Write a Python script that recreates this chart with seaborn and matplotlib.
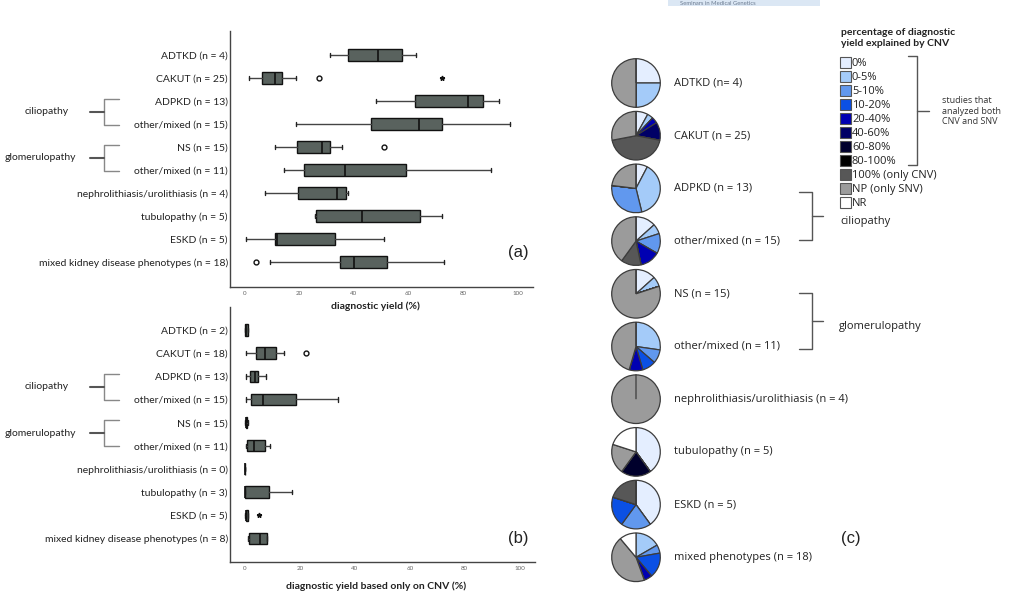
import matplotlib
matplotlib.use("Agg")
import matplotlib.pyplot as plt
from matplotlib.patches import Rectangle
import seaborn as sns

sns.set_theme(style="white")
plt.rcParams['font.family'] = ['Lato', 'DejaVu Sans']

# %% data - panel (a): diagnostic yield (%) per phenotype
labels_a = ["ADTKD (n = 4)", "CAKUT (n = 25)", "ADPKD (n = 13)", "other/mixed (n = 15)",
            "NS (n = 15)", "other/mixed (n = 11)", "nephrolithiasis/urolithiasis (n = 4)",
            "tubulopathy (n = 5)", "ESKD (n = 5)", "mixed kidney disease phenotypes (n = 18)"]
whislo_a = [31.1, 1.3, 47.9, 18.6, 11.1, 14.2, 7.2, 25.8, 0.5, 9.3]
q1_a = [37.9, 6.2, 62.3, 46.1, 19.1, 21.8, 19.3, 26.0, 11.0, 35.0]
med_a = [48.8, 11.1, 81.9, 63.7, 28.2, 36.8, 33.9, 43.0, 11.9, 39.9]
q3_a = [57.7, 13.7, 87.4, 72.4, 31.3, 58.9, 36.9, 64.1, 32.9, 52.1]
whishi_a = [62.6, 18.8, 93.2, 97.3, 35.7, 90.1, 37.7, 72.1, 51.1, 73.0]
outliers_a = [[], [27.1], [], [], [51.1], [], [], [], [], [3.9]]
extremes_a = [[], [72.2], [], [], [], [], [], [], [], []]

# %% data - panel (b): diagnostic yield based only on CNV (%)
labels_b = ["ADTKD (n = 2)", "CAKUT (n = 18)", "ADPKD (n = 13)", "other/mixed (n = 15)",
            "NS (n = 15)", "other/mixed (n = 11)", "nephrolithiasis/urolithiasis (n = 0)",
            "tubulopathy (n = 3)", "ESKD (n = 5)", "mixed kidney disease phenotypes (n = 8)"]
whislo_b = [0.0, 0.2, 0.2, 0.2, 0.1, 0.5, 0.0, 0.0, 0.1, 1.0]
q1_b = [0.1, 4.1, 1.7, 2.1, 0.2, 0.6, 0.0, 0.0, 0.2, 1.6]
med_b = [0.5, 7.2, 3.5, 6.7, 0.4, 3.3, 0.0, 0.0, 0.5, 5.3]
q3_b = [0.9, 11.3, 4.7, 18.7, 0.7, 7.2, 0.0, 8.6, 0.9, 7.9]
whishi_b = [1.0, 14.3, 7.5, 33.7, 1.0, 8.9, 0.0, 17.0, 1.0, 8.0]
outliers_b = [[], [22.2], [], [], [], [], [], [], [], []]
extremes_b = [[], [], [], [], [], [], [], [], [4.9], []]

# %% data - panel (c): number of studies per CNV share class
cnv_classes = ["0%", "0-5%", "5-10%", "10-20%", "20-40%", "40-60%", "60-80%",
               "80-100%", "100% (only CNV)", "NP (only SNV)", "NR"]
class_colors = ["#e4eeff", "#a4cbf9", "#6198ee", "#0b50e4", "#0000b2", "#000066",
                "#00002c", "#000000", "#575757", "#9b9b9b", "#ffffff"]
pie_labels = ["ADTKD (n= 4)", "CAKUT (n = 25)", "ADPKD (n = 13)", "other/mixed (n = 15)",
              "NS (n = 15)", "other/mixed (n = 11)", "nephrolithiasis/urolithiasis (n = 4)",
              "tubulopathy (n = 5)", "ESKD (n = 5)", "mixed phenotypes (n = 18)"]
pie_adtkd = [1, 1, 0, 0, 0, 0, 0, 0, 0, 2, 0]
pie_cakut = [2, 1, 0, 0, 1, 3, 0, 0, 11, 7, 0]
pie_adpkd = [1, 5, 4, 0, 0, 0, 0, 0, 0, 3, 0]
pie_cilio_other = [2, 1, 2, 0, 2, 0, 0, 0, 2, 6, 0]
pie_ns = [2, 1, 0, 0, 0, 0, 0, 0, 0, 12, 0]
pie_glom_other = [0, 3, 1, 1, 1, 0, 0, 0, 0, 5, 0]
pie_nephro = [0, 0, 0, 0, 0, 0, 0, 0, 0, 4, 0]
pie_tubulo = [2, 0, 0, 0, 0, 0, 1, 0, 0, 1, 1]
pie_eskd = [2, 0, 1, 1, 0, 0, 0, 0, 1, 0, 0]
pie_mixed = [0, 3, 1, 3, 1, 0, 0, 0, 0, 8, 2]
pie_counts = [pie_adtkd, pie_cakut, pie_adpkd, pie_cilio_other, pie_ns, pie_glom_other,
              pie_nephro, pie_tubulo, pie_eskd, pie_mixed]

W, H = 1025, 605
fig = plt.figure(figsize=(W / 100, H / 100), dpi=100)


def px_rect(left, top, right, bottom):
    return [left / W, 1 - bottom / H, (right - left) / W, (bottom - top) / H]


# overlay in pixel coordinates for brackets / panel text
ov = fig.add_axes([0, 0, 1, 1])
ov.set_xlim(0, W)
ov.set_ylim(H, 0)
ov.axis("off")

BOX_FACE = "#59625e"


def box_panel(rect, ylim, labels, whislo, q1, med, q3, whishi, outliers, extremes, xlabel, label_y):
    ax = fig.add_axes(rect)
    stats = []
    for i in range(len(labels)):
        stats.append(dict(label=labels[i], whislo=whislo[i], q1=q1[i], med=med[i],
                          q3=q3[i], whishi=whishi[i], fliers=outliers[i]))
    ax.bxp(stats, positions=list(range(len(labels))), widths=0.49, orientation="horizontal",
           patch_artist=True, capwidths=0.2,
           boxprops=dict(facecolor=BOX_FACE, edgecolor="#111111", linewidth=1.0),
           medianprops=dict(color="#111111", linewidth=1.2),
           whiskerprops=dict(color="#444444", linewidth=1.0),
           capprops=dict(color="#222222", linewidth=1.0),
           flierprops=dict(marker="o", markersize=3.5, markerfacecolor="white",
                           markeredgecolor="#111111", markeredgewidth=1.0))
    for i, ex in enumerate(extremes):
        if ex:
            ax.plot(ex, [i] * len(ex), marker="*", ls="none", color="#111111", ms=3.5)
    ax.set_xlim(-5.5, 105.6)
    ax.set_ylim(*ylim)
    ax.set_xticks([0, 20, 40, 60, 80, 100])
    ax.tick_params(axis="x", length=0, pad=3, labelsize=4.5, labelcolor="#666666")
    ax.tick_params(axis="y", length=0, pad=1.5, labelsize=7.5, labelcolor="#222222")
    ax.set_facecolor("none")
    sns.despine(ax=ax)
    for s in ["left", "bottom"]:
        ax.spines[s].set_color("#444444")
        ax.spines[s].set_linewidth(1.0)
    ax.set_xlabel(xlabel, fontsize=7.5, fontweight="bold", color="#222222")
    ax.xaxis.set_label_coords(0.479, label_y)
    ax.xaxis.label.set_va("center")
    return ax


ax_a = box_panel(px_rect(230, 31, 533, 286.7), (10.07, -1.04), labels_a, whislo_a, q1_a,
                 med_a, q3_a, whishi_a, outliers_a, extremes_a, "diagnostic yield (%)", -0.078)
ax_b = box_panel(px_rect(230, 307, 535, 561.7), (10.0, -0.99), labels_b, whislo_b, q1_b,
                 med_b, q3_b, whishi_b, outliers_b, extremes_b,
                 "diagnostic yield based only on CNV (%)", -0.0954)

ov.text(518, 253, "(a)", fontsize=12, family="Liberation Sans", ha="center", va="center", color="#222")
ov.text(518, 538, "(b)", fontsize=12, family="Liberation Sans", ha="center", va="center", color="#222")


def left_bracket(y0, y1, name, tx):
    mid = (y0 + y1) / 2
    ov.plot([118.5, 104, 104, 118.5], [y0, y0, y1, y1], color="#888888", lw=1.0)
    ov.plot([90, 104], [mid, mid], color="#555555", lw=1.5)
    ov.text(tx, mid, name, fontsize=7.5, ha="center", va="center", color="#222")


left_bracket(99, 125, "ciliopathy", 47)
left_bracket(145, 171, "glomerulopathy", 40)
left_bracket(374, 399.5, "ciliopathy", 47)
left_bracket(420, 446, "glomerulopathy", 40)

# %% panel (c): pies
R = 24.3
for i, counts in enumerate(pie_counts):
    cy = 83 + 52.7 * i
    pax = fig.add_axes(px_rect(636 - R - 1, cy - R - 1, 636 + R + 1, cy + R + 1))
    pax.pie(counts, colors=class_colors, startangle=90, counterclock=False,
            wedgeprops=dict(edgecolor="#3c3c3c", linewidth=0.9))
    lim = (R + 1) / R
    pax.set_xlim(-lim, lim)
    pax.set_ylim(-lim, lim)
    ov.text(674, cy, pie_labels[i], fontsize=8, family=["Open Sans", "DejaVu Sans"],
            ha="left", va="center", color="#222")


def right_bracket(y0, y1, xv, xa, xs, name, tx):
    mid = (y0 + y1) / 2
    ov.plot([xa, xv, xv, xa], [y0, y0, y1, y1], color="#555555", lw=1.0)
    ov.plot([xv, xs], [mid, mid], color="#555555", lw=1.0)
    ov.text(tx, mid + 5, name, fontsize=8, family=["Open Sans", "DejaVu Sans"],
            ha="left", va="center", color="#222")


right_bracket(192.3, 240, 811.5, 799, 823, "ciliopathy", 840)
right_bracket(293.3, 349, 811.5, 799, 823, "glomerulopathy", 839)
ov.text(851, 538, "(c)", fontsize=12, family="Liberation Sans", ha="center", va="center", color="#222")

# legend
ov.text(841, 38, "percentage of diagnostic\nyield explained by CNV", fontsize=7.5,
        fontweight="bold", ha="left", va="center", color="#222", linespacing=1.15)
for k, (name, col) in enumerate(zip(cnv_classes, class_colors)):
    yy = 62.7 + 14.0 * k
    ov.add_patch(Rectangle((840, yy - 5.3), 10.6, 10.6, facecolor=col, edgecolor="#555555", lw=0.8))
    ov.text(852, yy + 0.5, name, fontsize=8, family=["Open Sans", "DejaVu Sans"],
            ha="left", va="center", color="#222")
ov.plot([908.3, 917.3, 917.3, 908.3], [56, 56, 165, 165], color="#555555", lw=1.0)
ov.plot([917.3, 928.5], [110.7, 110.7], color="#555555", lw=1.0)
ov.text(942, 111, "studies that\nanalyzed both\nCNV and SNV", fontsize=6.5,
        family=["Open Sans", "DejaVu Sans"], ha="left", va="center", color="#333",
        linespacing=1.25)

# journal banner at top edge
ov.add_patch(Rectangle((668, 0), 151.5, 6, facecolor="#dbe7f4", edgecolor="none"))
ov.text(680, 3.2, "Seminars in Medical Genetics", fontsize=4.2, ha="left", va="center",
        color="#6a7a90")

fig.savefig("out.png", dpi=100)
